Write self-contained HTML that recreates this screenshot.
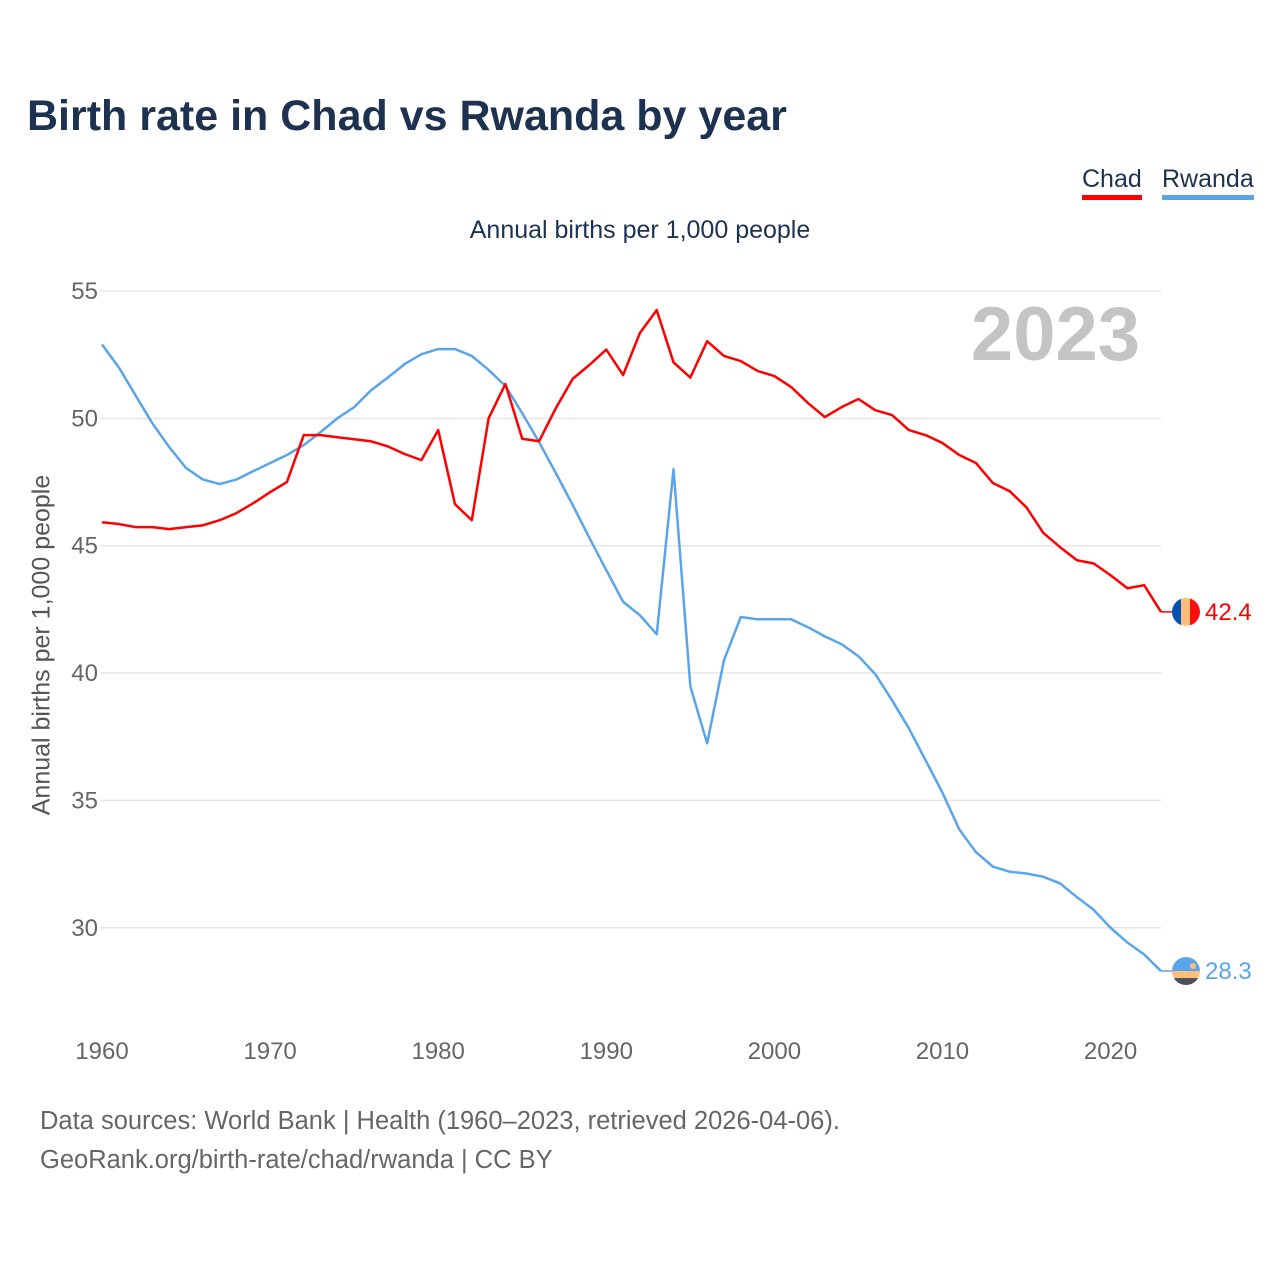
<!DOCTYPE html>
<html><head><meta charset="utf-8"><style>
body{margin:0;background:#fff;font-family:"Liberation Sans",sans-serif;}
#wrap{position:relative;width:1280px;height:1280px;overflow:hidden;}
.t{position:absolute;white-space:nowrap;}
</style></head><body>
<div id="wrap">
<div class="t" style="left:27px;top:92px;font-size:43px;font-weight:bold;color:#1d3150;">Birth rate in Chad vs Rwanda by year</div>
<div class="t" style="left:1082px;top:165px;font-size:25px;color:#1d3150;border-bottom:5px solid #ff0000;line-height:28px;padding-bottom:2px;">Chad</div>
<div class="t" style="left:1162px;top:165px;font-size:25px;color:#1d3150;border-bottom:5px solid #5aa5ea;line-height:28px;padding-bottom:2px;">Rwanda</div>
<div class="t" style="left:0;width:1280px;text-align:center;top:216px;font-size:25px;color:#1d3150;">Annual births per 1,000 people</div>
<div class="t" style="left:42px;top:645px;font-size:25px;color:#555;transform:translate(-50%,-50%) rotate(-90deg);">Annual births per 1,000 people</div>
<div class="t" style="left:40px;top:1102px;font-size:25.5px;color:#666;line-height:39px;">Data sources: World Bank | Health (1960–2023, retrieved 2026-04-06).<br>GeoRank.org/birth-rate/chad/rwanda | CC BY</div>
<svg id="chart" width="1280" height="1280" style="position:absolute;left:0;top:0"></svg>
</div>
<script>
const years=[];for(let y=1960;y<=2023;y++)years.push(y);
const chad=[45.92,45.85,45.73,45.73,45.65,45.73,45.8,46.0,46.28,46.67,47.1,47.5,49.34,49.34,49.26,49.18,49.1,48.9,48.6,48.36,49.54,46.63,46.0,50.0,51.35,49.2,49.1,50.4,51.55,52.1,52.7,51.7,53.35,54.25,52.2,51.6,53.03,52.45,52.25,51.86,51.66,51.23,50.6,50.05,50.44,50.76,50.32,50.13,49.54,49.34,49.03,48.56,48.24,47.46,47.14,46.5,45.5,44.94,44.43,44.3,43.84,43.33,43.45,42.4];
const rwanda=[52.9,52.0,50.9,49.8,48.87,48.05,47.6,47.42,47.6,47.93,48.24,48.56,48.95,49.46,50.0,50.44,51.1,51.6,52.13,52.52,52.72,52.72,52.45,51.9,51.27,50.2,49.07,47.85,46.6,45.3,44.04,42.8,42.27,41.52,48.0,39.48,37.24,40.5,42.2,42.11,42.11,42.11,41.8,41.44,41.13,40.66,39.96,38.93,37.83,36.57,35.3,33.86,32.96,32.4,32.2,32.13,32.0,31.74,31.2,30.7,30.0,29.42,28.95,28.3];
const yTicks=[30,35,40,45,50,55];
const xTicks=[1960,1970,1980,1990,2000,2010,2020];
const chadLabel="42.4", rwandaLabel="28.3";
const NS="http://www.w3.org/2000/svg";
const svg=document.getElementById('chart');
function X(y){return 102+(y-1960)*(1161-102)/63;}
function Y(v){return 291+(55-v)*25.47;}
function mk(tag,attrs,parent){const e=document.createElementNS(NS,tag);for(const k in attrs)e.setAttribute(k,attrs[k]);(parent||svg).appendChild(e);return e;}
yTicks.forEach(t=>{
  const l=mk('line',{x1:100,x2:1161,y1:Y(t),y2:Y(t),stroke:'#e6e6e6','stroke-width':1.5});
  
  
  const tx=mk('text',{x:98,y:Y(t)+8,'text-anchor':'end','font-size':24,fill:'#666','font-family':'Liberation Sans, sans-serif'});
  tx.textContent=t;
  
  
});
xTicks.forEach(t=>{
  const tx=mk('text',{x:X(t),y:1059,'text-anchor':'middle','font-size':24,fill:'#666','font-family':'Liberation Sans, sans-serif'});
  tx.textContent=t;
  
  
});
const yr=mk('text',{x:1140,y:360,'text-anchor':'end','font-size':76,'font-weight':'bold',fill:'#c4c4c4','font-family':'Liberation Sans, sans-serif'});
yr.textContent=years[years.length-1];


function line(vals,color,name){
  const p=mk('polyline',{points:vals.map((v,i)=>X(years[i])+','+Y(v)).join(' '),fill:'none',stroke:color,'stroke-width':2.5,'stroke-linejoin':'round'});
  
  
}
line(rwanda,'#5aa5ea','rwanda-line');
line(chad,'#ff0000','chad-line');
function endMark(vals,color,label,name,flag){
  const last=vals[vals.length-1],y=Y(last);
  mk('line',{x1:1161,x2:1172,y1:y,y2:y,stroke:color,'stroke-width':1.5});
  const g=mk('g',{});
  
  
  const cid=name+'clip';
  const cp=mk('clipPath',{id:cid},g);mk('circle',{cx:1186,cy:y,r:14},cp);
  const gg=mk('g',{'clip-path':'url(#'+cid+')'},g);
  if(flag==='chad'){
    mk('rect',{x:1172,y:y-14,width:10,height:28,fill:'#0650b4'},gg);
    mk('rect',{x:1181,y:y-14,width:10,height:28,fill:'#ffbe7a'},gg);
    mk('rect',{x:1190,y:y-14,width:10,height:28,fill:'#ff1010'},gg);
  }else{
    mk('rect',{x:1172,y:y-14,width:28,height:14,fill:'#5aa5ea'},gg);
    mk('rect',{x:1172,y:y,width:28,height:7,fill:'#ffbe7a'},gg);
    mk('rect',{x:1172,y:y+7,width:28,height:7,fill:'#4a4f5a'},gg);
    mk('circle',{cx:1193,cy:y-5,r:3,fill:'#ffbe7a'},gg);
  }
  const tx=mk('text',{x:1205,y:y+8,'font-size':24,fill:color,'font-family':'Liberation Sans, sans-serif'});
  tx.textContent=label;
  
  
}
endMark(chad,'#ff0000',chadLabel,'chad','chad');
endMark(rwanda,'#5aa5ea',rwandaLabel,'rwanda','rwanda');
</script>
</body></html>
